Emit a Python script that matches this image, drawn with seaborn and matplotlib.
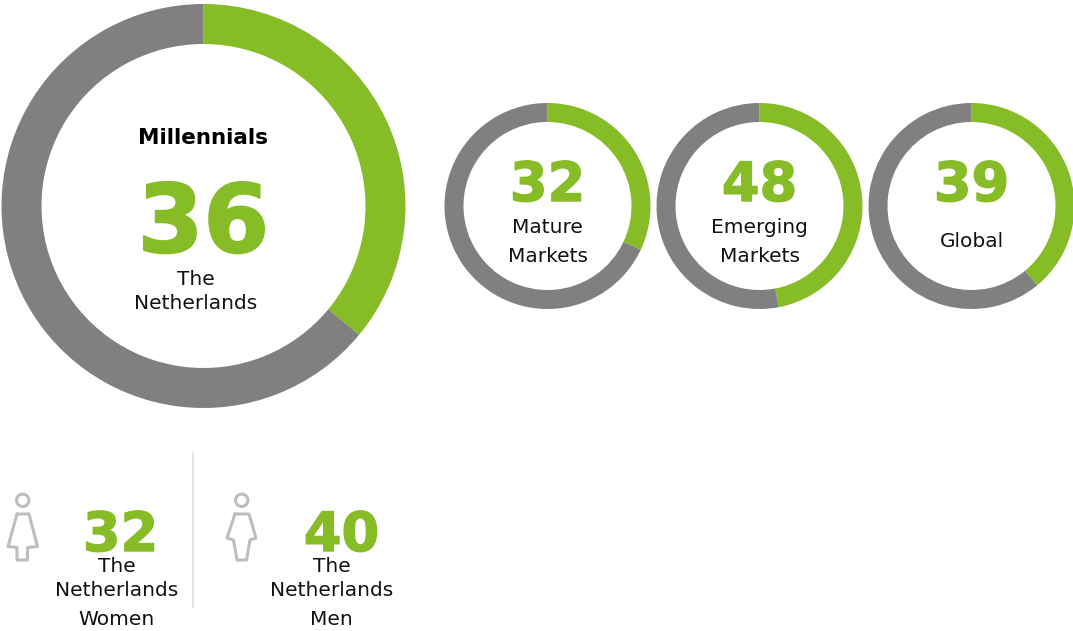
import matplotlib.pyplot as plt
import matplotlib.patheffects as pe
from matplotlib.patches import Circle
import seaborn as sns

W, H = 1073, 631

# chart values
main_value = 36
market_names = ["Mature\nMarkets", "Emerging\nMarkets", "Global"]
market_values = [32, 48, 39]
# the Emerging ring is drawn a little short of its printed number
market_arcs = [32, 47, 39]
gender_values = [32, 40]
gender_names = ["Women", "Men"]

GREEN = "#86bc25"
GREY = "#808080"
TEXT = "#111111"

sns.set_theme(style="white")
plt.rcParams["font.family"] = ["DejaVu Sans"]

fig = plt.figure(figsize=(W / 100, H / 100), dpi=100, facecolor="white")


def donut(cx, cy, r, r_in, value):
    ax = fig.add_axes([(cx - r) / W, 1 - (cy + r) / H, 2 * r / W, 2 * r / H])
    ax.pie([value, 100 - value], colors=[GREEN, GREY], startangle=90, counterclock=False,
           radius=1, wedgeprops={"width": 1 - r_in / r, "linewidth": 0})
    ax.set_xlim(-1, 1)
    ax.set_ylim(-1, 1)


donut(203.5, 206, 202, 162, main_value)
for cx, v in zip([547.5, 759.5, 971.5], market_arcs):
    donut(cx, 206, 103, 84, v)

# overlay in pixel coordinates for the text and icons
ov = fig.add_axes([0, 0, 1, 1], zorder=5)
ov.set_xlim(0, W)
ov.set_ylim(H, 0)
ov.axis("off")
ov.patch.set_alpha(0)


def label(x, y, s, size=14.5, color=TEXT, weight="normal", stroke=0):
    t = ov.text(x, y, s, fontsize=size, color=color, fontweight=weight,
                ha="center", va="center", linespacing=1.0)
    if stroke:
        # the original digits are heavier than DejaVu Bold
        t.set_path_effects([pe.withStroke(linewidth=stroke, foreground=color)])


label(203.5, 138, "Millennials", size=15.5, color="black", weight="bold")
label(203.5, 226, str(main_value), size=68, color=GREEN, weight="bold", stroke=1.5)
label(196, 279.5, "The")
label(196, 303.5, "Netherlands")

for cx, v, name in zip([547.5, 759.5, 971.5], market_values, market_names):
    label(cx, 186, str(v), size=39, color=GREEN, weight="bold", stroke=1)
    lines = name.split("\n")
    if len(lines) == 2:
        label(cx, 227.5, lines[0])
        label(cx, 256.5, lines[1])
    else:
        label(cx, 241.5, lines[0])

for num_x, txt_x, v, name in zip([120.5, 341.5], [116.5, 331.5], gender_values, gender_names):
    label(num_x, 536, str(v), size=39, color=GREEN, weight="bold", stroke=1)
    label(txt_x, 566.5, "The")
    label(txt_x, 590.5, "Netherlands")
    label(txt_x, 619.5, name)

# divider
ov.plot([193, 193], [453, 607], color="#dddddd", lw=1.2)

# person icons
ICON = "#bdbdbd"
ov.add_patch(Circle((22.7, 500.3), 6.2, fill=False, ec=ICON, lw=2.2))
ov.plot([17, 29, 37.5, 27.5, 27.5, 17, 17, 8, 17],
        [514, 514, 546.5, 547.5, 560, 560, 547.5, 546.5, 514],
        color=ICON, lw=2.2, solid_joinstyle="round")
ov.add_patch(Circle((241.7, 500.3), 6.2, fill=False, ec=ICON, lw=2.2))
ov.plot([235, 249, 256, 250, 246.5, 237, 233.5, 227, 235],
        [514, 514, 538, 540, 560, 560, 540, 538, 514],
        color=ICON, lw=2.2, solid_joinstyle="round")

fig.savefig("out.png", dpi=100)
